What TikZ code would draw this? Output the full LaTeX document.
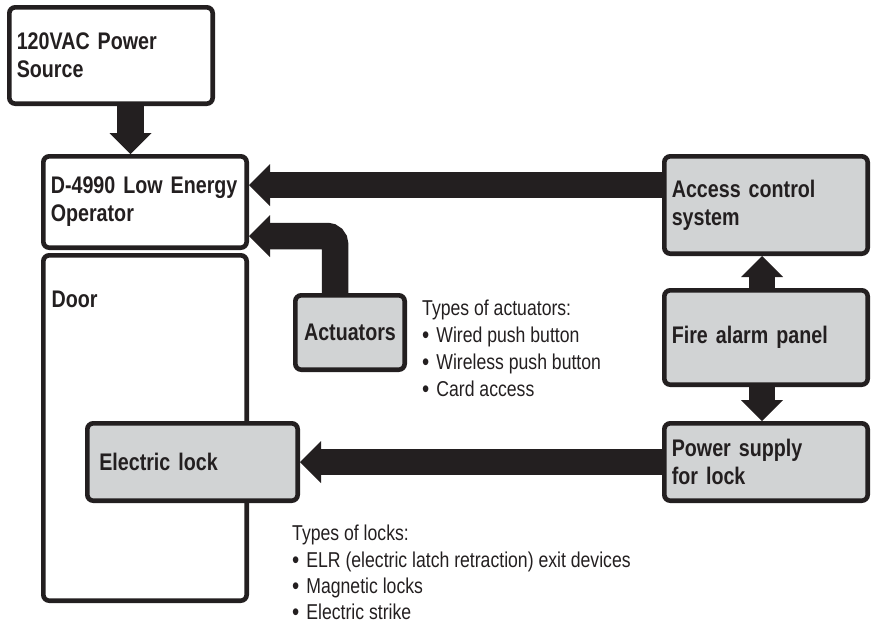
\documentclass[tikz,border=0pt]{standalone}
\usepackage{fontspec}
\setmainfont{Liberation Sans}[FakeStretch=0.82]
\usetikzlibrary{arrows.meta}
\definecolor{ink}{HTML}{231F20}
\definecolor{panel}{HTML}{D1D3D4}
\newcommand\boxfont{\fontsize{24}{28}\selectfont\bfseries}
\newcommand\notefont{\fontsize{21.5}{27}\selectfont}
\newcommand\itm{\raisebox{-1pt}{\fontsize{25}{27}\selectfont\textbullet}\hspace{7pt}}
\tikzset{
  plainbox/.style = {shape=rectangle, rounded corners=6pt,
                     draw=ink, line width=4.6pt, fill=white,
                     text=ink, font=\boxfont, align=left,
                     inner xsep=7.5pt, inner ysep=0pt,
                     text width=188.4pt, anchor=north west},
  greybox/.style  = {plainbox, fill=panel},
  notes/.style    = {anchor=north west, inner sep=0pt, align=left,
                     text=ink, font=\notefont},
  bigarrow/.style = {draw=ink, line width=26.5pt,
                     -{Triangle[width=42pt,length=21pt,line width=0pt]}}
}

\begin{document}
\begin{tikzpicture}[x=1pt, y=-1pt]
  \useasboundingbox (0,0) rectangle (873,625);

  \node [plainbox, minimum height=96.4pt] (pwr) at (7,5) {120VAC Power\\Source};
  \node [plainbox, minimum height=91.4pt] (op) at (41,154) {D-4990 Low Energy\\Operator};
  \node [plainbox, minimum height=345.4pt] (door) at (41,253) {};
  \node [anchor=base west, inner sep=0pt, text=ink, font=\boxfont] (doorlbl) at (51.5,307) {Door};
  \node [greybox, inner xsep=0pt, text width=109.4pt, align=center,
         minimum height=74.4pt] (act) at (293,293) {Actuators};
  \node [greybox, inner xsep=12pt, text width=186.4pt,
         minimum height=77.4pt] (lock) at (85,421) {Electric lock};
  \node [greybox, minimum height=97.4pt] (acs) at (662,154) {Access control\\system};
  \node [greybox, minimum height=94.4pt] (fire) at (662,288) {Fire alarm panel};
  \node [greybox, minimum height=77.4pt] (psu) at (662,421) {Power supply\\for lock};

  % notes
  \node [notes] (actnote) at (422,300)
    {Types of actuators:\\\itm Wired push button\\\itm Wireless push button\\\itm Card access};
  \node [notes, font=\fontsize{21.5}{26.3}\selectfont] (locknote) at (292,525)
    {Types of locks:\\\itm ELR (electric latch retraction) exit devices\\\itm Magnetic locks\\\itm Electric strike};

  % arrows
  \draw [bigarrow] ([xshift=19.5pt]pwr.south) -- ([xshift=19.5pt]pwr.south |- op.north);
  \draw [bigarrow] ([yshift=20pt]acs.west) -- ([yshift=20pt]acs.west -| op.east);
  \draw [bigarrow, rounded corners=8pt] ([xshift=-15pt]act.north) |- ([yshift=-34pt]op.east);
  \draw [bigarrow] ([xshift=-4pt]fire.north) -- ([xshift=-4pt]acs.south);
  \draw [bigarrow] ([xshift=-4pt]fire.south) -- ([xshift=-4pt]psu.north);
  \draw [bigarrow] (psu.west) -- (lock.east);
\end{tikzpicture}
\end{document}
